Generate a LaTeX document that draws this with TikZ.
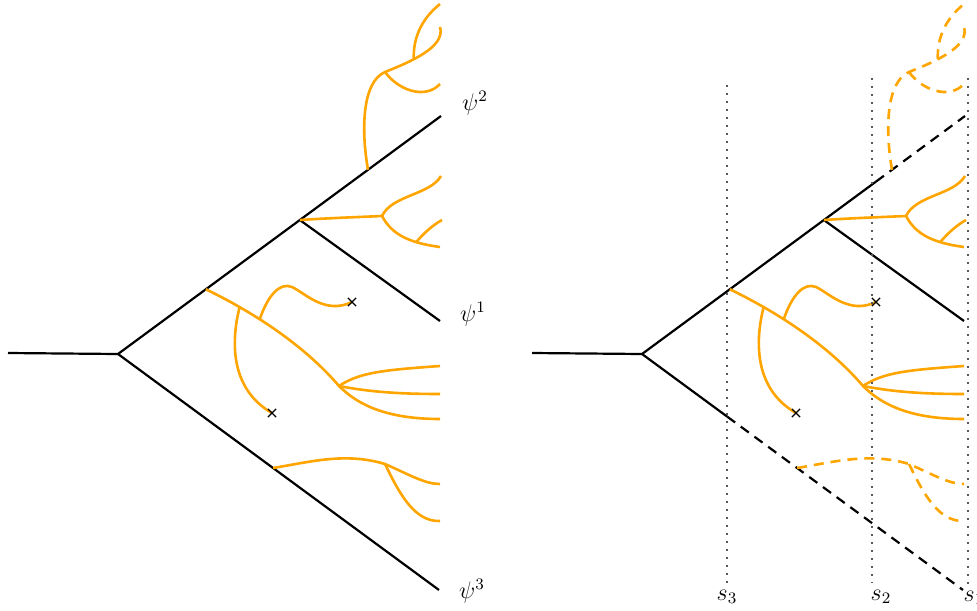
\documentclass[tikz,border=0pt]{standalone}
\usetikzlibrary{calc,shapes.misc}
\definecolor{sproutcolor}{RGB}{255,165,0}
\tikzset{
        branch/.style={draw,line width=1.1pt},
        branchdash/.style={branch,dash pattern=on 5pt off 3.5pt},
        sprout/.style={draw=sproutcolor,line width=1.3pt},
        sproutdash/.style={sprout,dash pattern=on 5pt off 3.5pt},
        slice/.style={draw=black!65,line width=0.8pt,dash pattern=on 0.8pt off 3.2pt},
        cross/.style={draw=black,cross out,minimum size=3.5pt,inner sep=0pt,line width=0.6pt},
        tag/.style={font=\fontsize{11.5pt}{14pt}\selectfont}
    }

\begin{document}
\begin{tikzpicture}[x=0.5pt,y=-0.5pt]
    \useasboundingbox (0,0) rectangle (977,610);

    \foreach \tr/\dx/\tail/\twig in {l/0/branch/sprout, r/524/branchdash/sproutdash} {
        \begin{scope}[shift={(\dx,0)}]
            \coordinate (\tr-start) at (8,353);
            \coordinate (\tr-root) at (118,354);
            \coordinate (\tr-top) at (441,116);
            \coordinate (\tr-mid) at (440,321);
            \coordinate (\tr-bot) at (439,590);
            \coordinate (\tr-fork) at ($(\tr-root)!0.563!(\tr-top)$);
            \coordinate (\tr-cutup) at ($(\tr-root)!0.724!(\tr-top)$);
            \coordinate (\tr-cutlow) at ($(\tr-root)!0.265!(\tr-bot)$);
            \coordinate (\tr-a1) at ($(\tr-root)!0.774!(\tr-top)$);
            \coordinate (\tr-a3) at ($(\tr-root)!0.272!(\tr-top)$);
            \coordinate (\tr-a4) at ($(\tr-root)!0.483!(\tr-bot)$);
            \coordinate (\tr-d3) at (339,386);

            \draw[branch] (\tr-start) -- (\tr-root);
            \draw[branch] (\tr-root) -- (\tr-cutup);
            \draw[\tail] (\tr-cutup) -- (\tr-top);
            \draw[branch] (\tr-fork) -- (\tr-mid);
            \draw[branch] (\tr-root) -- (\tr-cutlow);
            \draw[\tail] (\tr-cutlow) -- (\tr-bot);

            % top sprout
            \draw[\twig] (\tr-a1) .. controls (361,130) and (362,82) .. (385,72) coordinate (\tr-b1)
                .. controls (410,62) and (446,47) .. (440,27) coordinate[pos=0.36] (\tr-b2);
            \draw[\twig] (\tr-b2) .. controls (413,40) and (420,20) .. (440,4);
            \draw[\twig] (\tr-b1) .. controls (398,90) and (425,100) .. (440,84);

            % fork sprout
            \draw[sprout] (\tr-fork) .. controls (330,218) and (360,217) .. (382,216) coordinate (\tr-c1)
                .. controls (392,235) and (410,243) .. (440,247) coordinate[pos=0.7] (\tr-c2);
            \draw[sprout] (\tr-c1) .. controls (392,195) and (430,195) .. (441,176);
            \draw[sprout] (\tr-c2) .. controls (425,232) and (433,225) .. (442,220);

            % middle sprout
            \draw[sprout] (\tr-a3) .. controls (265,318) and (310,352) .. (\tr-d3)
                coordinate[pos=0.2] (\tr-d1) coordinate[pos=0.33] (\tr-d2)
                .. controls (357,404) and (385,419) .. (440,419);
            \draw[sprout] (\tr-d1) .. controls (230,345) and (232,390) .. (272,413);
            \draw[sprout] (\tr-d2) .. controls (268,295) and (280,282) .. (292,287)
                .. controls (305,293) and (325,315) .. (352,302);
            \draw[sprout] (\tr-d3) .. controls (360,372) and (385,370) .. (440,366);
            \draw[sprout] (\tr-d3) .. controls (370,392) and (400,394) .. (440,394);
            \node[cross] (\tr-x1) at (352,302) {};
            \node[cross] (\tr-x2) at (272,413) {};

            % bottom sprout
            \draw[\twig] (\tr-a4) .. controls (310,462) and (345,452) .. (385,464) coordinate (\tr-e1)
                .. controls (410,475) and (425,484) .. (440,484);
            \draw[\twig] (\tr-e1) .. controls (400,495) and (415,522) .. (440,521);
        \end{scope}
    }

    \node[tag] (psi2) at (475,103) {$\psi^2$};
    \node[tag] (psi1) at (473,314) {$\psi^1$};
    \node[tag] (psi3) at (472,591) {$\psi^3$};

    \node[tag] (s3) at (727,597) {$s_3$};
    \node[tag] (s2) at (881,597) {$s_2$};
    \node[tag] (s1) at (974,598) {$s_1$};
    \coordinate (s3top) at (727,85);
    \coordinate (s2top) at (872,78);
    \coordinate (s1top) at (968,78);
    \draw[slice] (s3top) -- (s3top |- s3.north);
    \draw[slice] (s2top) -- (s2top |- s2.north);
    \draw[slice] (s1top) -- (s1top |- s1.north);
\end{tikzpicture}
\end{document}
